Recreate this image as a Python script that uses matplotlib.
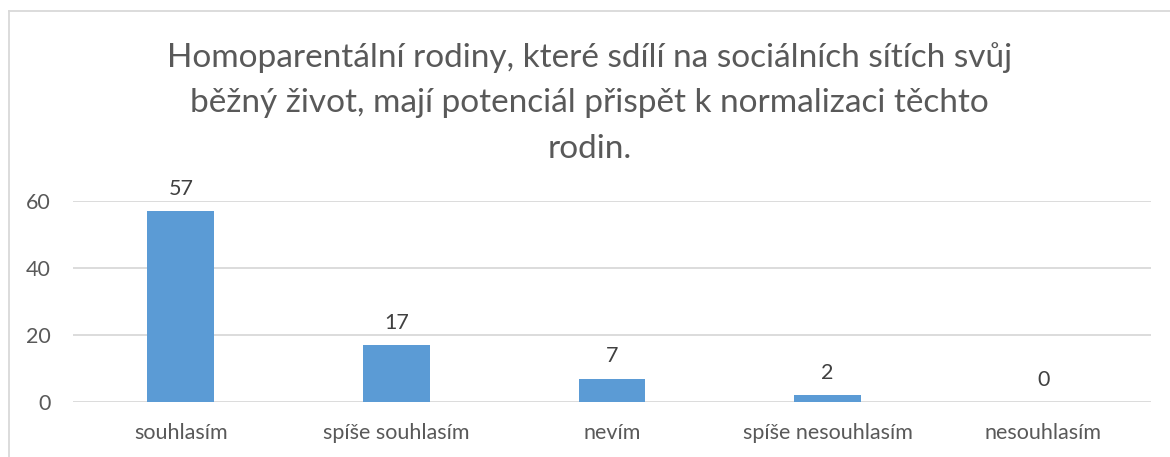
import matplotlib.pyplot as plt
from matplotlib.lines import Line2D

categories = ['souhlasím', 'spíše souhlasím', 'nevím', 'spíše nesouhlasím', 'nesouhlasím']
values = [57, 17, 7, 2, 0]
title_lines = ['Homoparentální rodiny, které sdílí na sociálních sítích svůj',
               'běžný život, mají potenciál přispět k normalizaci těchto',
               'rodin.']

W, H = 1170, 457
text_color = '#595959'
bar_color = '#5B9BD5'
grid_color = '#D9D9D9'

plt.rcParams['font.family'] = ['Lato', 'DejaVu Sans']

fig = plt.figure(figsize=(W / 100, H / 100), dpi=100)
ax = fig.add_axes([73 / W, 1 - 402 / H, (1151 - 73) / W, (402 - 201) / H])

x = range(len(categories))
bars = ax.bar(x, values, width=0.31, color=bar_color, zorder=3)
for b, v in zip(bars, values):
    ax.annotate(str(v), (b.get_x() + b.get_width() / 2, v), xytext=(0, 9),
                textcoords='offset points', ha='center', va='bottom',
                fontsize=15.5, color='#404040')

ax.set_xlim(-0.5, len(categories) - 0.5)
ax.set_ylim(0, 60)
ax.set_yticks([0, 20, 40, 60])
ax.set_xticks(list(x))
ax.set_xticklabels(categories)
ax.yaxis.grid(True, color=grid_color, linewidth=1.3, zorder=0)
for s in ax.spines.values():
    s.set_visible(False)
ax.tick_params(length=0, labelsize=15.5, labelcolor=text_color)
ax.tick_params(axis='y', pad=16)
ax.tick_params(axis='x', pad=15)

# title, one baseline per line
for i, line in enumerate(title_lines):
    fig.text(0.5 * (1 + 9 / W), 1 - (67 + 45.5 * i) / H, line, ha='center',
             va='baseline', fontsize=24, color=text_color)

# chart border (only top and left visible in the crop)
fig.add_artist(Line2D([9 / W, 9 / W], [0, 1 - 11 / H], transform=fig.transFigure,
                      color=grid_color, linewidth=1.3))
fig.add_artist(Line2D([9 / W, 1], [1 - 11 / H, 1 - 11 / H], transform=fig.transFigure,
                      color=grid_color, linewidth=1.3))

fig.savefig('out.png', dpi=100, facecolor='white')
